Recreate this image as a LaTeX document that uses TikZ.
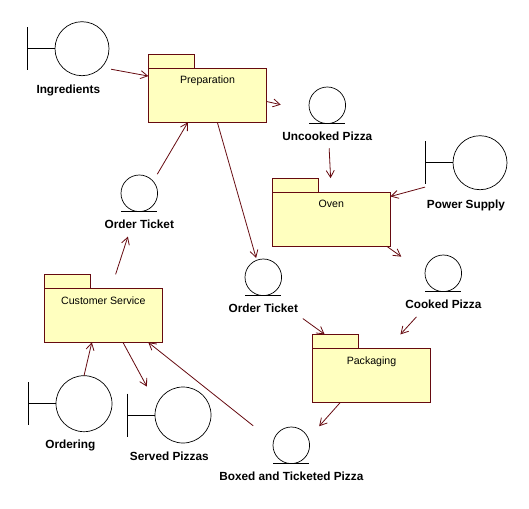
\documentclass[tikz,border=0pt]{standalone}
\usepackage{fontspec}
\setmainfont{Liberation Sans}
\usetikzlibrary{arrows.meta}
\definecolor{pkgline}{HTML}{660A10}
\definecolor{pkgfill}{HTML}{FFFFBF}
\tikzset{
  pkgbody/.style={draw=pkgline, fill=pkgfill, line width=0.8pt, minimum width=118.4pt, minimum height=54pt, inner sep=0pt, outer sep=0pt},
  pkgtab/.style={draw=pkgline, fill=pkgfill, line width=0.8pt, minimum width=46.2pt, minimum height=14pt, inner sep=0pt, outer sep=0pt, anchor=south west},
  pkgtitle/.style={font=\fontsize{10.6}{13}\selectfont, inner sep=0pt, anchor=base},
  symlabel/.style={font=\fontsize{11.8}{13}\selectfont\bfseries, inner sep=0pt, anchor=base},
  symcircle/.style={draw, circle, line width=0.7pt, inner sep=0pt, outer sep=0pt},
  flow/.style={draw=pkgline, line width=0.8pt, -{Straight Barb[length=7pt,width=8pt]}}
}
\begin{document}
\begin{tikzpicture}[x=1pt,y=-1pt]
  \useasboundingbox (0,0) rectangle (529,508);
  % packages
  \foreach \n/\x/\y/\l in {prep/207.5/95.3/Preparation,oven/331.3/219.2/Oven,service/103.3/315.3/Customer Service,packaging/371.5/375.3/Packaging} {
    \node[pkgbody] (\n) at (\x,\y) {};
    \node[pkgtab] (\n-tab) at (\n.north west) {};
    \node[pkgtitle] (\n-title) at ([yshift=-15.7pt]\n.north) {\l};
  }
  % boundaries
  \foreach \n/\x/\y/\rad/\ly/\lx/\l in {ingredients/82/48.7/27/94/68.3/Ingredients,power/480/162.7/27/208/466/Power Supply,ordering/84/403.7/28/448/70.3/Ordering,served/183/415/28/460/169.3/Served Pizzas} {
    \node[symcircle, minimum size=2*\rad pt] (\n) at (\x,\y) {};
    \draw[line width=0.7pt] (\n.west) -- ++(-27.3,0) ++(0,-21.5) -- ++(0,43);
    \node[symlabel] (\n-label) at (\lx,\ly) {\l};
  }
  % entities
  \foreach \n/\x/\y/\ly/\l in {ticketin/139.3/193.3/228/Order Ticket,uncooked/327.3/105.3/140/Uncooked Pizza,cooked/443.3/273.3/308/Cooked Pizza,ticketout/263.3/277.3/312/Order Ticket,boxed/291.3/445.3/480/Boxed and Ticketed Pizza} {
    \node[symcircle, minimum size=36.6pt] (\n) at (\x,\y) {};
    \draw[line width=0.7pt] ([xshift=-18pt]\n.south) -- ([xshift=18pt]\n.south);
    \node[symlabel] (\n-label) at (\x,\ly) {\l};
  }
  % flows
  \draw[flow, shorten <=9.8pt] (ingredients.-44) -- (prep.162);
  \draw[flow, shorten <=8.2pt] (ticketin.41) -- (prep.234);
  \draw[flow, shorten >=2.3pt] (prep.-70) -- (ticketout.111);
  \draw[flow, shorten >=30pt] (prep.-6.5) -- (uncooked.199);
  \draw[flow, shorten <=24.7pt, shorten >=14pt] (uncooked.-88) -- (oven.north);
  \draw[flow, shorten <=34pt] (power.215) -- (oven.21.2);
  \draw[flow, shorten >=29.2pt] (oven.-26.7) -- (cooked.181);
  \draw[flow, shorten <=41.1pt] (ticketout.-70.2) -- (packaging-tab.147.1);
  \draw[flow, shorten <=34.6pt, shorten >=18.9pt] (cooked.-101.7) -- (packaging.59.2);
  \draw[flow, shorten >=16.4pt] (packaging.221.2) -- (boxed.22.1);
  \draw[flow, shorten <=25.7pt] (boxed.169) -- (service.-31.5);
  \draw[flow, shorten >=20.9pt] (service.-54.9) -- (served.159);
  \draw[flow] (ordering.90) -- (service.247.8);
  \draw[flow, shorten <=14.7pt, shorten >=26.6pt] (service.74.7) -- (ticketin.-100.3);
\end{tikzpicture}
\end{document}
